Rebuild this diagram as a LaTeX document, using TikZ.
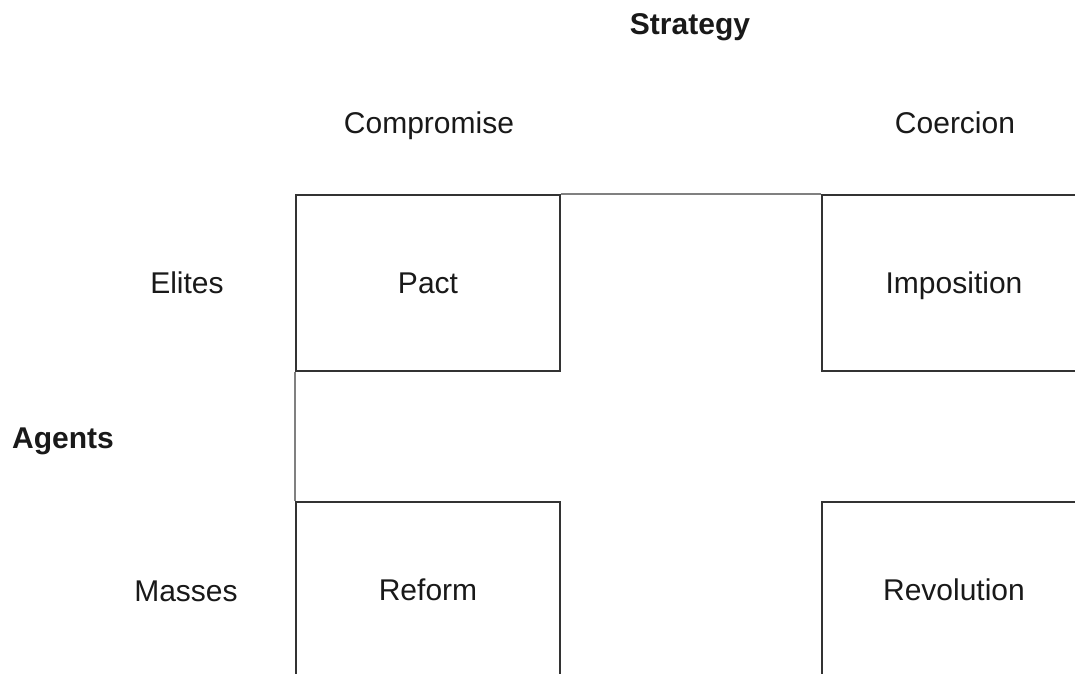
\documentclass[tikz,border=0pt]{standalone}
\usepackage{fontspec}
\setmainfont{Liberation Sans}
\begin{document}
\begin{tikzpicture}[x=1pt,y=-1pt,
  cell/.style={draw=black!80, line width=1.3pt, minimum width=264pt, minimum height=176pt, inner sep=0pt, text height=21.5pt, text depth=0pt, font=\fontsize{30}{36}\selectfont, text=black!90},
  lbl/.style={anchor=base, font=\fontsize{30}{36}\selectfont, text=black!90, inner sep=0pt},
  hdr/.style={anchor=base, font=\fontsize{30}{36}\selectfont\bfseries, text=black!90, inner sep=0pt},
  link/.style={draw=black!50, line width=2pt}]
\useasboundingbox (0,0) rectangle (1075,673);
\clip (0,0) rectangle (1075,673);
\fill[white] (0,0) rectangle (1075,673);
\node[hdr] (strategy) at (690,34) {Strategy};
\node[lbl] (compromise) at (429,133) {Compromise};
\node[lbl] (coercion) at (955,133) {Coercion};
\node[lbl] (elites) at (187,293) {Elites};
\node[hdr] (agents) at (63,448) {Agents};
\node[lbl] (masses) at (186,601) {Masses};
\node[cell] (pact) at (428,283) {Pact};
\node[cell] (imposition) at (954,283) {Imposition};
\node[cell] (reform) at (428,590) {Reform};
\node[cell] (revolution) at (954,590) {Revolution};
\draw[link] (pact.north east) -- (imposition.north west);
\draw[link] (pact.south west) -- (reform.north west);
\end{tikzpicture}
\end{document}
